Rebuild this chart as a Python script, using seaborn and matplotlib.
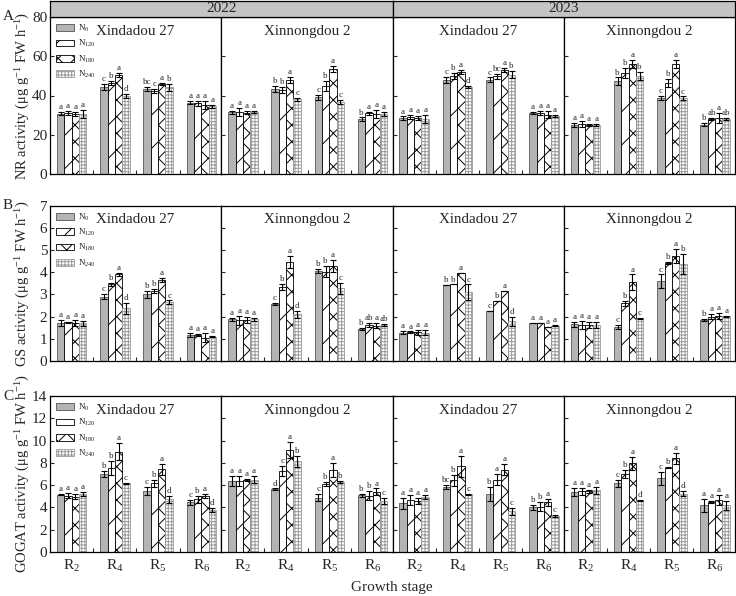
import pandas as pd
import seaborn as sns
import matplotlib.pyplot as plt
from matplotlib.patches import Patch

# Categories
stages = ["R$_2$", "R$_4$", "R$_5$", "R$_6$"]
n_levels = ["N$_0$", "N$_{120}$", "N$_{180}$", "N$_{240}$"]
years = ["2022", "2023"]
cultivars = ["Xindadou 27", "Xinnongdou 2"]

# Values: one block per panel (2022 X27, 2022 XN2, 2023 X27, 2023 XN2),
# one row per stage, one value per N level
nr_mean = [
    [[30.8, 31.2, 30.5, 30.5], [44.5, 46.5, 50.5, 39.8], [43.2, 42.3, 46.0, 44.3], [36.3, 36.0, 35.3, 34.5]],
    [[31.5, 31.8, 31.3, 31.8], [43.5, 43.0, 47.8, 38.0], [39.0, 45.0, 53.5, 36.5], [28.0, 30.9, 30.5, 30.6]],
    [[28.5, 29.0, 28.5, 28.2], [48.0, 50.0, 52.0, 44.3], [48.0, 49.7, 52.8, 50.6], [31.0, 31.0, 30.3, 29.6]],
    [[25.0, 25.4, 24.9, 25.2], [47.2, 51.5, 56.0, 50.0], [38.8, 46.5, 56.0, 38.5], [25.2, 28.2, 28.5, 28.0]],
]
nr_err = [
    [[0.8, 0.9, 0.9, 2.0], [1.5, 1.0, 1.0, 1.0], [1.0, 1.2, 0.6, 1.8], [0.8, 1.2, 2.0, 0.8]],
    [[0.8, 2.0, 0.6, 0.5], [1.5, 1.5, 1.5, 0.8], [1.5, 2.5, 1.5, 1.0], [0.8, 0.8, 2.2, 0.8]],
    [[0.8, 1.0, 1.0, 2.0], [1.5, 1.5, 1.2, 0.6], [1.2, 1.2, 1.0, 1.8], [0.5, 1.0, 2.0, 0.5]],
    [[0.8, 1.5, 0.5, 0.5], [2.0, 2.5, 2.0, 2.0], [1.0, 2.0, 2.0, 1.0], [0.8, 0.5, 2.5, 0.5]],
]
nr_sig = [
    [["a", "a", "a", "a"], ["c", "b", "a", "d"], ["bc", "c", "a", "b"], ["a", "a", "a", "a"]],
    [["a", "a", "a", "a"], ["b", "b", "a", "c"], ["c", "b", "a", "c"], ["b", "a", "a", "a"]],
    [["a", "a", "a", "a"], ["c", "b", "a", "d"], ["c", "bc", "a", "b"], ["a", "a", "a", "a"]],
    [["a", "a", "a", "a"], ["b", "b", "a", "b"], ["c", "b", "a", "c"], ["b", "ab", "a", "ab"]],
]

gs_mean = [
    [[1.72, 1.74, 1.72, 1.70], [2.90, 3.45, 3.90, 2.38], [3.00, 3.15, 3.65, 2.65], [1.17, 1.17, 1.05, 1.10]],
    [[1.88, 1.83, 1.85, 1.88], [2.57, 3.33, 4.45, 2.10], [4.05, 4.02, 4.27, 3.27], [1.43, 1.62, 1.60, 1.62]],
    [[1.28, 1.30, 1.29, 1.28], [3.42, 3.45, 3.98, 3.10], [2.25, 2.72, 3.15, 1.80], [1.70, 1.70, 1.55, 1.60]],
    [[1.65, 1.62, 1.62, 1.62], [1.52, 2.60, 3.55, 1.90], [3.60, 4.42, 4.73, 4.38], [1.85, 2.00, 2.03, 2.02]],
]
gs_err = [
    [[0.12, 0.03, 0.12, 0.12], [0.12, 0.05, 0.05, 0.25], [0.15, 0.10, 0.08, 0.08], [0.10, 0.06, 0.20, 0.03]],
    [[0.08, 0.20, 0.15, 0.08], [0.03, 0.15, 0.27, 0.15], [0.10, 0.25, 0.28, 0.25], [0.04, 0.08, 0.12, 0.03]],
    [[0.08, 0.03, 0.10, 0.10], [0.00, 0.00, 0.00, 0.35], [0.00, 0.00, 0.00, 0.20], [0.00, 0.00, 0.00, 0.03]],
    [[0.12, 0.18, 0.15, 0.12], [0.10, 0.12, 0.35, 0.02], [0.30, 0.05, 0.30, 0.45], [0.04, 0.10, 0.12, 0.02]],
]
gs_sig = [
    [["a", "a", "a", "a"], ["c", "b", "a", "d"], ["b", "b", "a", "c"], ["a", "a", "a", "a"]],
    [["a", "a", "a", "a"], ["c", "b", "a", "d"], ["b", "b", "a", "c"], ["b", "ab", "a", "ab"]],
    [["a", "a", "a", "a"], ["b", "b", "a", "c"], ["c", "b", "a", "d"], ["a", "a", "a", "a"]],
    [["a", "a", "a", "a"], ["c", "b", "a", "c"], ["c", "b", "a", "b"], ["b", "a", "a", "a"]],
]

gogat_mean = [
    [[5.15, 5.06, 4.97, 5.20], [7.00, 7.55, 9.00, 6.15], [5.45, 6.15, 7.42, 4.72], [4.45, 4.72, 5.03, 3.77]],
    [[6.40, 6.40, 6.45, 6.50], [5.65, 7.25, 9.15, 8.15], [4.88, 6.10, 7.35, 6.25], [5.10, 5.05, 5.40, 4.60]],
    [[4.37, 4.65, 4.58, 4.95], [5.85, 6.45, 7.70, 5.20], [5.20, 6.50, 7.40, 3.65], [4.00, 4.05, 4.45, 3.25]],
    [[5.40, 5.45, 5.45, 5.55], [6.15, 7.00, 7.95, 4.65], [6.60, 7.55, 8.40, 5.25], [4.20, 4.50, 4.70, 4.20]],
]
gogat_err = [
    [[0.05, 0.20, 0.20, 0.20], [0.30, 0.65, 0.75, 0.05], [0.35, 0.30, 0.50, 0.30], [0.25, 0.35, 0.20, 0.15]],
    [[0.45, 0.45, 0.10, 0.35], [0.05, 0.45, 0.75, 0.50], [0.30, 0.20, 0.60, 0.10], [0.12, 0.40, 0.30, 0.25]],
    [[0.50, 0.45, 0.25, 0.15], [0.20, 0.50, 0.95, 0.05], [0.60, 0.50, 0.50, 0.30], [0.20, 0.40, 0.30, 0.07]],
    [[0.35, 0.30, 0.15, 0.30], [0.35, 0.40, 0.60, 0.05], [0.60, 0.05, 0.50, 0.20], [0.60, 0.10, 0.45, 0.40]],
]
gogat_sig = [
    [["a", "a", "a", "a"], ["b", "b", "a", "c"], ["c", "b", "a", "d"], ["c", "b", "a", "d"]],
    [["a", "a", "a", "a"], ["d", "c", "a", "b"], ["c", "b", "a", "b"], ["b", "b", "a", "c"]],
    [["a", "a", "a", "a"], ["bc", "b", "a", "c"], ["b", "a", "a", "c"], ["b", "b", "a", "c"]],
    [["a", "a", "a", "a"], ["c", "b", "a", "d"], ["c", "b", "a", "d"], ["a", "a", "a", "a"]],
]

sns.set_style("ticks")
plt.rcParams["font.family"] = ["Liberation Serif", "DejaVu Serif"]
plt.rcParams["mathtext.fontset"] = "custom"
plt.rcParams["mathtext.rm"] = "Liberation Serif"
plt.rcParams["mathtext.it"] = "Liberation Serif:italic"
plt.rcParams["mathtext.default"] = "regular"
plt.rcParams["hatch.linewidth"] = 0.7

fills = ["#b4b4b4", "white", "white", "white"]
edges = ["#555555", "black", "black", "#9a9a9a"]
hatches = ["", "/", "xx", "+++++"]

rows = [
    ("A", "NR activity (μg g$^{-1}$ FW h$^{-1}$)", nr_mean, nr_err, nr_sig, 80, list(range(0, 81, 20))),
    ("B", "GS activity (μg g$^{-1}$ FW h$^{-1}$)", gs_mean, gs_err, gs_sig, 7, list(range(0, 8))),
    ("C", "GOGAT activity (μg g$^{-1}$ FW h$^{-1}$)", gogat_mean, gogat_err, gogat_sig, 14, list(range(0, 15, 2))),
]
row_px = [(17, 174), (205.7, 361), (396, 552)]

W, H = 736, 596
x0, panel_w = 50, (735 - 50) / 4

fig = plt.figure(figsize=(7.36, 5.96), dpi=100)

for r, (tag, ylabel, mean, err, sig, ymax, yticks) in enumerate(rows):
    top, bot = row_px[r]
    for p in range(4):
        ax = fig.add_axes([(x0 + p * panel_w) / W, 1 - bot / H, panel_w / W, (bot - top) / H])
        df = pd.DataFrame({
            "stage": [s for s in stages for _ in n_levels],
            "N": [n for _ in stages for n in n_levels],
            "value": [v for row in mean[p] for v in row],
        })
        sns.barplot(data=df, x="stage", y="value", hue="N", order=stages, hue_order=n_levels,
                    palette=fills, errorbar=None, width=0.68, legend=False, ax=ax)
        bars = list(ax.containers)
        for k, cont in enumerate(bars):
            for j, bar in enumerate(cont):
                bar.set_facecolor(fills[k])
                bar.set_edgecolor(edges[k])
                bar.set_linewidth(0.6)
                bar.set_hatch(hatches[k])
                cx = bar.get_x() + bar.get_width() / 2
                h = bar.get_height()
                e = err[p][j][k]
                ax.errorbar(cx, h, yerr=e, fmt="none", ecolor="black", elinewidth=0.8,
                            capsize=2, capthick=0.8)
                ax.text(cx, h + e + ymax * 0.006, sig[p][j][k], ha="center", va="bottom",
                        fontsize=6.5)

        ax.set_xlim(-0.5, 3.46)
        ax.set_ylim(0, ymax)
        ax.set_yticks(yticks)
        ax.set_xlabel("")
        ax.set_ylabel("")
        ax.set_xticks([0.5, 1.5, 2.5], minor=True)
        ax.tick_params(axis="x", which="major", length=0, labelsize=11, pad=4,
                       labelbottom=(r == 2))
        ax.tick_params(axis="x", which="minor", direction="in", length=3, width=0.8)
        ax.tick_params(axis="y", direction="in", length=3, width=0.8, labelsize=11,
                       labelleft=(p == 0), pad=2)
        for sp in ax.spines.values():
            sp.set_visible(True)
            sp.set_linewidth(0.9)
            sp.set_color("black")
        ax.text(0.5, 0.91, cultivars[p % 2], transform=ax.transAxes, ha="center",
                va="center", fontsize=10.8)

        if p == 0:
            ax.set_ylabel(ylabel, fontsize=10.5)
            ax.yaxis.set_label_coords(-0.108, 0.5)
            handles = [Patch(facecolor=fills[k], edgecolor=edges[k], hatch=hatches[k],
                             linewidth=0.6, label=n_levels[k]) for k in range(4)]
            ax.legend(handles=handles, loc="upper left", frameon=False, fontsize=6.5,
                      handlelength=2.0, handleheight=0.8, labelspacing=0.45,
                      handletextpad=0.4, borderaxespad=0.25)

    fig.text(0.004, 1 - top / H, tag, ha="left", va="center", fontsize=11)

# Year header bands
for i, yr in enumerate(years):
    hax = fig.add_axes([(x0 + i * 2 * panel_w) / W, 1 - 17 / H, 2 * panel_w / W, 16 / H])
    hax.set_facecolor("#c4c4c4")
    hax.set_xticks([])
    hax.set_yticks([])
    for sp in hax.spines.values():
        sp.set_linewidth(0.9)
        sp.set_color("black")
    hax.text(0.5, 0.5, yr, transform=hax.transAxes, ha="center", va="center", fontsize=11)

fig.text(392 / W, 1 - 587 / H, "Growth stage", ha="center", va="center", fontsize=11)

plt.savefig("out.png", dpi=100)
